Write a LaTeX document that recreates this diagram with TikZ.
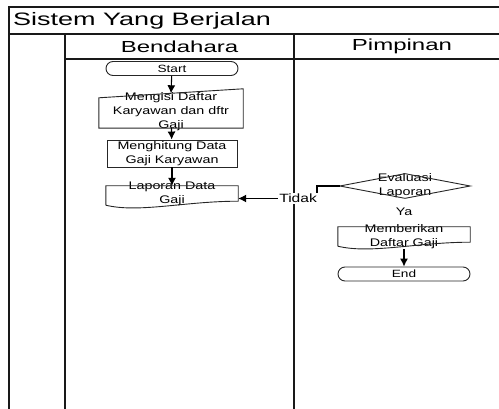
\documentclass[tikz,border=0pt]{standalone}
\usepackage{fontspec}
\setmainfont{Liberation Sans}[FakeStretch=1.3]
\newfontfamily\lebar{Liberation Sans}[FakeStretch=1.5]
\usetikzlibrary{arrows.meta,calc,shapes.misc}

\def\dokumen#1{
	\draw[garis] ($(#1.south west)+(0,-3)$) -- (#1.north west) -- (#1.north east)
		-- ($(#1.south east)+(0,-7)$)
		.. controls ($(#1.south east)!0.4!(#1.south west)+(0,-7)$) and ($(#1.south east)!0.75!(#1.south west)+(0,5)$) .. ($(#1.south west)+(0,-3)$);
}
\def\masukan#1{
	\draw[garis] (#1.north east) -- (#1.south east) -- (#1.south west) -- ($(#1.north west)+(0,9)$) -- cycle;
}
\def\keputusan#1{
	\draw[garis] (#1.west) -- (#1.north) -- (#1.east) -- (#1.south) -- cycle;
}

\begin{document}
\begin{tikzpicture}[x=1pt,y=-1pt,>={Latex[length=8pt,width=8pt]},
	bingkai/.style={draw=black!90,line width=1.2pt},
	garis/.style={draw=black!85,line width=0.9pt},
	panah/.style={draw=black,line width=1.1pt,->},
	teks/.style={inner sep=0pt,align=center,font=\fontsize{11}{14}\selectfont},
	kotak/.style={teks,rectangle,minimum width=132pt},
	terminal/.style={rounded rectangle,garis,minimum width=132pt,minimum height=14pt,inner sep=0pt,font=\fontsize{10.5}{12}\selectfont}]

\useasboundingbox (0,0) rectangle (499,409);

\draw[bingkai] (9,409) -- (9,7) -- (499,7);
\draw[bingkai] (9,34) -- (499,34);
\draw[bingkai] (65,59) -- (499,59);
\draw[bingkai] (65,409) -- (65,34);
\draw[bingkai] (294,409) -- (294,34);

\node[anchor=west,inner sep=0pt,font=\lebar\fontsize{18}{20}\selectfont] (judul) at (13,20.5) {Sistem Yang Berjalan};
\node[inner sep=0pt,font=\lebar\fontsize{16}{18}\selectfont] (bendahara) at (179.5,46.5) {Bendahara};
\node[inner sep=0pt,font=\lebar\fontsize{16}{18}\selectfont] (pimpinan) at (402,46.5) {Pimpinan};

\node[terminal] (mulai) at (172,68.5) {Start};
\node[kotak,minimum width=144pt,minimum height=39pt,
	label={[teks,yshift=-3.5pt]center:{Mengisi Daftar\\Karyawan dan dftr\\Gaji}}] (isi) at (171,108.5) {};
\masukan{isi}
\node[kotak,garis,minimum width=130pt,minimum height=27pt] (hitung) at (172,153.5) {Menghitung Data\\Gaji Karyawan};
\node[kotak,minimum height=22pt,
	label={[teks,yshift=3pt]center:{Laporan Data\\Gaji}}] (lapor) at (172,197) {};
\dokumen{lapor}

\node[kotak,minimum width=130pt,minimum height=22pt] (evaluasi) at (405,186) {Evaluasi\\Laporan};
\keputusan{evaluasi}
\node[teks] (ya) at (404,212) {Ya};
\node[kotak,minimum height=22pt,
	label={[teks,yshift=1pt]center:{Memberikan\\Daftar Gaji}}] (beri) at (404,238) {};
\dokumen{beri}
\node[terminal] (akhir) at (404,274) {End};

\coordinate (belok) at (317,198.5);

\draw[panah] (mulai) -- ($(isi.north)+(0,4.5)$);
\draw[panah] (isi) -- (hitung);
\draw[panah] (hitung) -- (lapor);
\draw[panah] (evaluasi.west) -| (belok) -- (belok -| lapor.east)
	node[pos=0.24,fill=white,inner sep=1pt,font=\fontsize{12}{13}\selectfont] {Tidak};
\draw[panah] (beri) -- (akhir);

\end{tikzpicture}
\end{document}
